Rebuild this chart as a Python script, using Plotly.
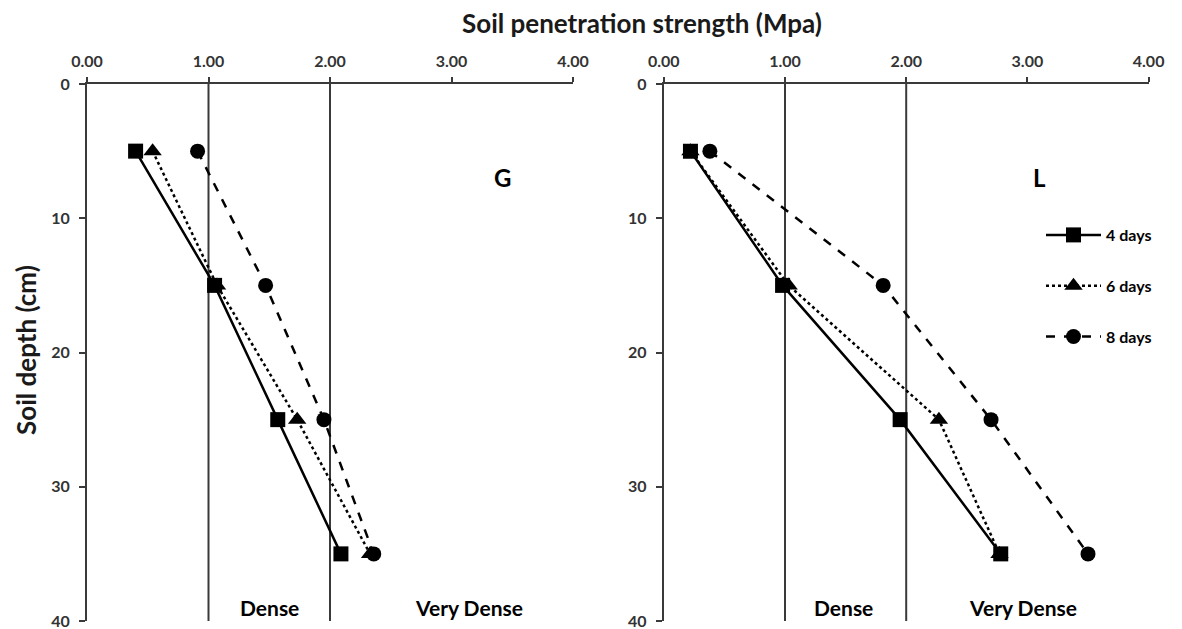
import plotly.graph_objects as go

depth = [5, 15, 25, 35]
series_names = ["4 days", "6 days", "8 days"]

# Panel G
g_4days = [0.40, 1.05, 1.57, 2.09]
g_6days = [0.54, 1.07, 1.73, 2.33]
g_8days = [0.91, 1.47, 1.95, 2.36]

# Panel L
l_4days = [0.22, 0.98, 1.95, 2.78]
l_6days = [0.22, 1.03, 2.27, 2.77]
l_8days = [0.38, 1.81, 2.70, 3.50]

density_bounds = [1.0, 2.0]
x_ticks = [0, 1, 2, 3, 4]
y_ticks = [0, 10, 20, 30, 40]

FONT = "Lato"
INK = "#000000"
AXC = "#3a3a3a"
W, H = 1182, 629
OFF = 8          # page offset of the figure in the browser
TOP, BOT = 84, 621   # page pixel rows of depth 0 and depth 40
PH = BOT - TOP

styles = [
    dict(dash="solid", symbol="square", size=15),
    dict(dash="dot", symbol="triangle-up", size=16),
    dict(dash="dash", symbol="circle", size=15),
]

fig = go.Figure()

panels = [("x", "y", [g_4days, g_6days, g_8days], False),
          ("x2", "y2", [l_4days, l_6days, l_8days], True)]

for xa, ya, data, show in panels:
    for name, vals, st in zip(series_names, data, styles):
        fig.add_trace(go.Scatter(
            x=vals, y=depth, xaxis=xa, yaxis=ya, name=name,
            mode="lines+markers", showlegend=show, legendgroup=name,
            line=dict(color=INK, width=2.5, dash=st["dash"]),
            marker=dict(symbol=st["symbol"], size=st["size"], color=INK),
        ))

shapes = []
for xa, ya in [("x", "y"), ("x2", "y2")]:
    for b in density_bounds:
        shapes.append(dict(type="line", xref=xa, yref=ya, x0=b, x1=b, y0=0, y1=40,
                           line=dict(color=AXC, width=2), layer="below"))

tickfont = dict(family=FONT, size=16, color="#333333", weight="bold")

def xax(domain, anchor):
    return dict(domain=domain, anchor=anchor, side="top", range=[0, 4],
                tickvals=x_ticks, ticktext=[f"{v:.2f}" for v in x_ticks],
                ticks="outside", ticklen=5, tickwidth=2, tickcolor=AXC,
                showline=True, linecolor=AXC, linewidth=2, showgrid=False,
                zeroline=False, tickfont=tickfont, ticklabelstandoff=4,
                automargin=False)

def yax(anchor):
    return dict(domain=[0, 1], anchor=anchor, range=[40, 0], tickvals=y_ticks,
                ticks="outside", ticklen=6, tickwidth=2, tickcolor=AXC,
                showline=True, linecolor=AXC, linewidth=2, showgrid=False,
                zeroline=False, tickfont=tickfont, ticklabelstandoff=6,
                automargin=False)

annot_font = dict(family=FONT, size=21, color=INK, weight="bold")
big_font = dict(family=FONT, size=24, color=INK, weight="bold")
title_font = dict(family=FONT, size=26, color="#1a1a1a", weight="bold")

def px(X):
    return (X - OFF) / W

def py(Y):
    return (BOT - Y) / PH

def ann(text, x, y, xref, yref, font, **kw):
    return dict(text=text, x=x, y=y, xref=xref, yref=yref, showarrow=False,
                xanchor="center", yanchor="middle", font=font, **kw)

annotations = [
    ann("G", 3.42, 7, "x", "y", big_font),
    ann("L", 3.10, 7, "x2", "y2", big_font),
    ann("Dense", 1.50, 39.0, "x", "y", annot_font),
    ann("Very Dense", 3.14, 39.0, "x", "y", annot_font),
    ann("Dense", 1.48, 39.0, "x2", "y2", annot_font),
    ann("Very Dense", 2.96, 39.0, "x2", "y2", annot_font),
    ann("Soil penetration strength (Mpa)", px(642), py(23), "paper", "paper", title_font),
    ann("Soil depth (cm)", px(26), py(350), "paper", "paper", title_font, textangle=-90),
]

fig.update_layout(
    width=W, height=H,
    margin=dict(l=0, r=0, t=TOP - OFF, b=H - (TOP - OFF) - PH, autoexpand=False),
    paper_bgcolor="white", plot_bgcolor="white",
    xaxis=xax([px(87), px(573)], "y"),
    yaxis=yax("x"),
    xaxis2=xax([px(663.8), px(1148.6)], "y2"),
    yaxis2=yax("x2"),
    shapes=shapes,
    annotations=annotations,
    showlegend=True,
    legend=dict(x=px(1041), y=py(218), xanchor="left", yanchor="top",
                bgcolor="rgba(0,0,0,0)", tracegroupgap=27, itemwidth=55,
                font=dict(family=FONT, size=16, color=INK, weight="bold")),
)

fig.write_html("out.html")
